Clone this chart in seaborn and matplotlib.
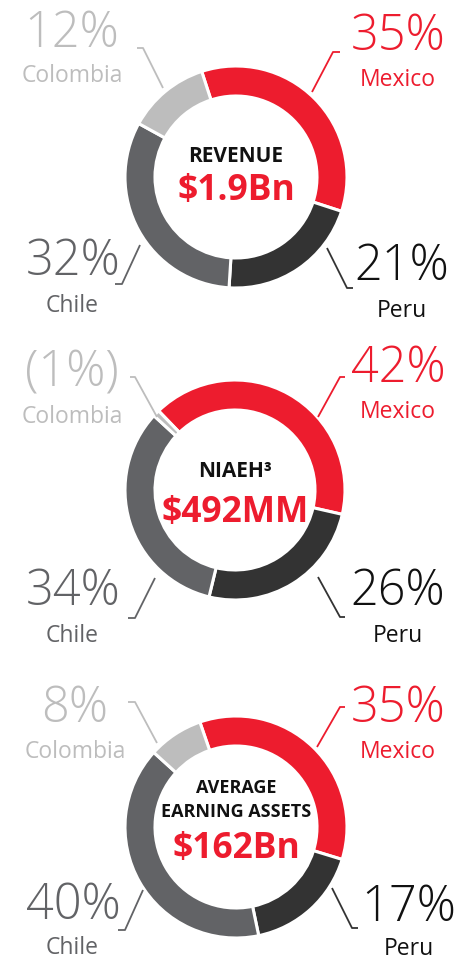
import matplotlib
matplotlib.use("Agg")
import matplotlib.pyplot as plt
import seaborn as sns

# ---- data -------------------------------------------------------------
countries = ["Mexico", "Peru", "Chile", "Colombia"]
revenue_pct = [35, 21, 32, 12]
niaeh_pct = [42, 26, 34, -1]
earning_assets_pct = [35, 17, 40, 8]
panel_titles = ["REVENUE", "NIAEH\u00b3", "AVERAGE\nEARNING ASSETS"]
panel_totals = ["$1.9Bn", "$492MM", "$162Bn"]

# ---- style ------------------------------------------------------------
sns.set_theme(style="white")
plt.rcParams["font.family"] = ["Open Sans", "DejaVu Sans"]

seg_colors = sns.color_palette(["#ED1C2E", "#333333", "#626366", "#BDBDBD"])
text_colors = ["#ED1C2E", "#111111", "#626366", "#BDBDBD"]
title_color = "#111111"

W, H = 462, 960
fig = plt.figure(figsize=(W / 100, H / 100), dpi=100)
ax = fig.add_axes([0, 0, 1, 1])


def Y(y):
    return H - y


def fmt(v):
    return f"({abs(v)}%)" if v < 0 else f"{v}%"


# layout of each panel (pixel coordinates, y measured from top)
panels = [
    dict(values=revenue_pct, center=(236, 177), r=111, start=108,
         title_y=[162], total_y=200,
         num=[(398, 50), (402, 280), (73, 275), (72, 47)],
         name=[(398, 86), (402, 317), (72, 312), (72, 82)],
         leaders=[[(340, 52), (333, 52), (312, 92)],
                  [(327, 248), (347, 288), (353, 288)],
                  [(140, 245), (122, 284), (115, 284)],
                  [(137, 48), (143, 48), (163, 88)]]),
    dict(values=niaeh_pct, center=(235, 490), r=110, start=134,
         title_y=[477], total_y=522,
         num=[(398, 382), (398, 605), (73, 605), (72, 387)],
         name=[(398, 418), (398, 642), (72, 642), (72, 423)],
         leaders=[[(345, 377), (340, 377), (318, 417)],
                  [(318, 577), (340, 617), (345, 617)],
                  [(155, 578), (135, 618), (128, 618)],
                  [(130, 377), (135, 377), (157, 417)]]),
    dict(values=earning_assets_pct, center=(236, 827), r=111, start=109,
         title_y=[793, 817], total_y=858,
         num=[(398, 722), (409, 921), (73, 919), (75, 722)],
         name=[(398, 758), (409, 955), (72, 954), (75, 758)],
         leaders=[[(345, 707), (340, 707), (317, 747)],
                  [(332, 888), (352, 928), (358, 928)],
                  [(143, 890), (125, 930), (118, 930)],
                  [(128, 702), (135, 702), (157, 743)]]),
]

for i, p in enumerate(panels):
    cx, cy = p["center"]
    sizes = [abs(v) for v in p["values"]]
    ax.pie(sizes, colors=seg_colors, startangle=p["start"], counterclock=False,
           radius=p["r"], center=(cx, Y(cy)),
           wedgeprops=dict(width=30, edgecolor="white", linewidth=2.2))

    # centre caption
    lines = panel_titles[i].split("\n")
    fs = 15 if len(lines) == 1 else 13
    for line, ty in zip(lines, p["title_y"]):
        ax.text(cx, Y(ty), line, ha="center", va="baseline", fontsize=fs,
                fontweight="bold", color=title_color)
    ax.text(cx, Y(p["total_y"]), panel_totals[i], ha="center", va="baseline",
            fontsize=25.5, fontweight="bold", color=seg_colors[0])

    # country labels and leader lines
    for k, country in enumerate(countries):
        nx, ny = p["num"][k]
        ax.text(nx, Y(ny), fmt(p["values"][k]), ha="center", va="baseline",
                fontsize=35, fontweight="light", color=text_colors[k])
        mx, my = p["name"][k]
        ax.text(mx, Y(my), country, ha="center", va="baseline",
                fontsize=16.5, fontweight="normal", color=text_colors[k])
        xs = [pt[0] for pt in p["leaders"][k]]
        ys = [Y(pt[1]) for pt in p["leaders"][k]]
        ax.plot(xs, ys, color=seg_colors[k], lw=1.3, solid_capstyle="butt")

ax.set_xlim(0, W)
ax.set_ylim(0, H)
ax.set_aspect("equal")
ax.axis("off")
fig.savefig("out.png", dpi=100, facecolor="white")
